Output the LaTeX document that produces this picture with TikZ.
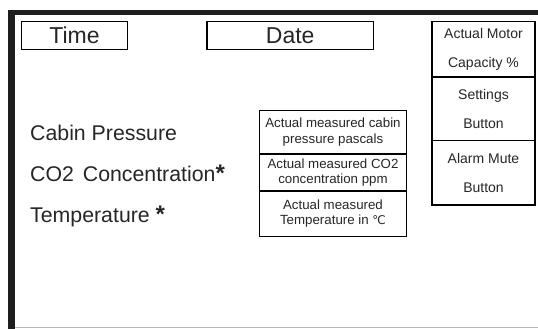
\documentclass[tikz,border=0pt]{standalone}
\usepackage{fontspec}
\setmainfont{Liberation Sans}
\newfontfamily\dejavu{DejaVu Sans}
\definecolor{txt}{HTML}{262626}
\definecolor{framec}{HTML}{1E1E1E}
\newcommand{\bigast}{{\bfseries\fontsize{24}{25}\selectfont *}}
\begin{document}
\begin{tikzpicture}[x=1pt,y=-1pt,
  titlebox/.style={draw=black, line width=1.8pt, inner sep=0pt, text=txt, font=\fontsize{23}{27}\selectfont},
  cell/.style={draw=black, line width=1.5pt, inner sep=0pt, align=center, text=txt, font=\fontsize{13.3}{15.5}\selectfont},
  colcell/.style={draw=black, line width=1.5pt, inner sep=0pt, align=center, text=txt, font=\fontsize{14}{29}\selectfont, minimum width=103pt},
  lbl/.style={anchor=base west, inner sep=0pt, text=txt, font=\fontsize{21.3}{25}\selectfont}]
\useasboundingbox (0,0) rectangle (538,329);
% outer frame
\fill[framec] (7.5,10) rectangle (14.5,329);
\fill[framec] (7.5,10) rectangle (538,15);
\draw[gray!55, line width=1pt] (14.5,327.5) -- (538,327.5);
% title boxes
\node[titlebox, minimum width=106pt, minimum height=28pt] (time) at (74.5,35.5) {Time};
\node[titlebox, minimum width=166.5pt, minimum height=28pt] (date) at (290.25,35.5) {Date};
% right column
\node[colcell, minimum height=55.5pt] (motor) at (483.5,49.25) {Actual Motor\\Capacity \%};
\node[colcell, minimum height=63.5pt] (settings) at (483.5,108.75) {Settings\\Button};
\node[colcell, minimum height=64.5pt] (mute) at (483.5,172.75) {Alarm Mute\\Button};
% measured values
\node[cell, minimum width=147pt, minimum height=43.5pt] (m1) at (333,132.25) {Actual measured cabin\\pressure pascals};
\node[cell, minimum width=147pt, minimum height=37pt] (m2) at (333,172.5) {Actual measured CO2\\concentration ppm};
\node[cell, minimum width=147pt, minimum height=45.5pt] (m3) at (333,213.75) {Actual measured\\Temperature in {\dejavu\fontsize{12}{14}\selectfont ℃}};
% labels
\node[lbl] (cp) at (30,140) {Cabin Pressure};
\node[lbl] (co2) at (30,181.5) {CO2\hspace{3pt} Concentration\bigast};
\node[lbl] (temp) at (30,222) {Temperature \bigast};
\end{tikzpicture}
\end{document}
